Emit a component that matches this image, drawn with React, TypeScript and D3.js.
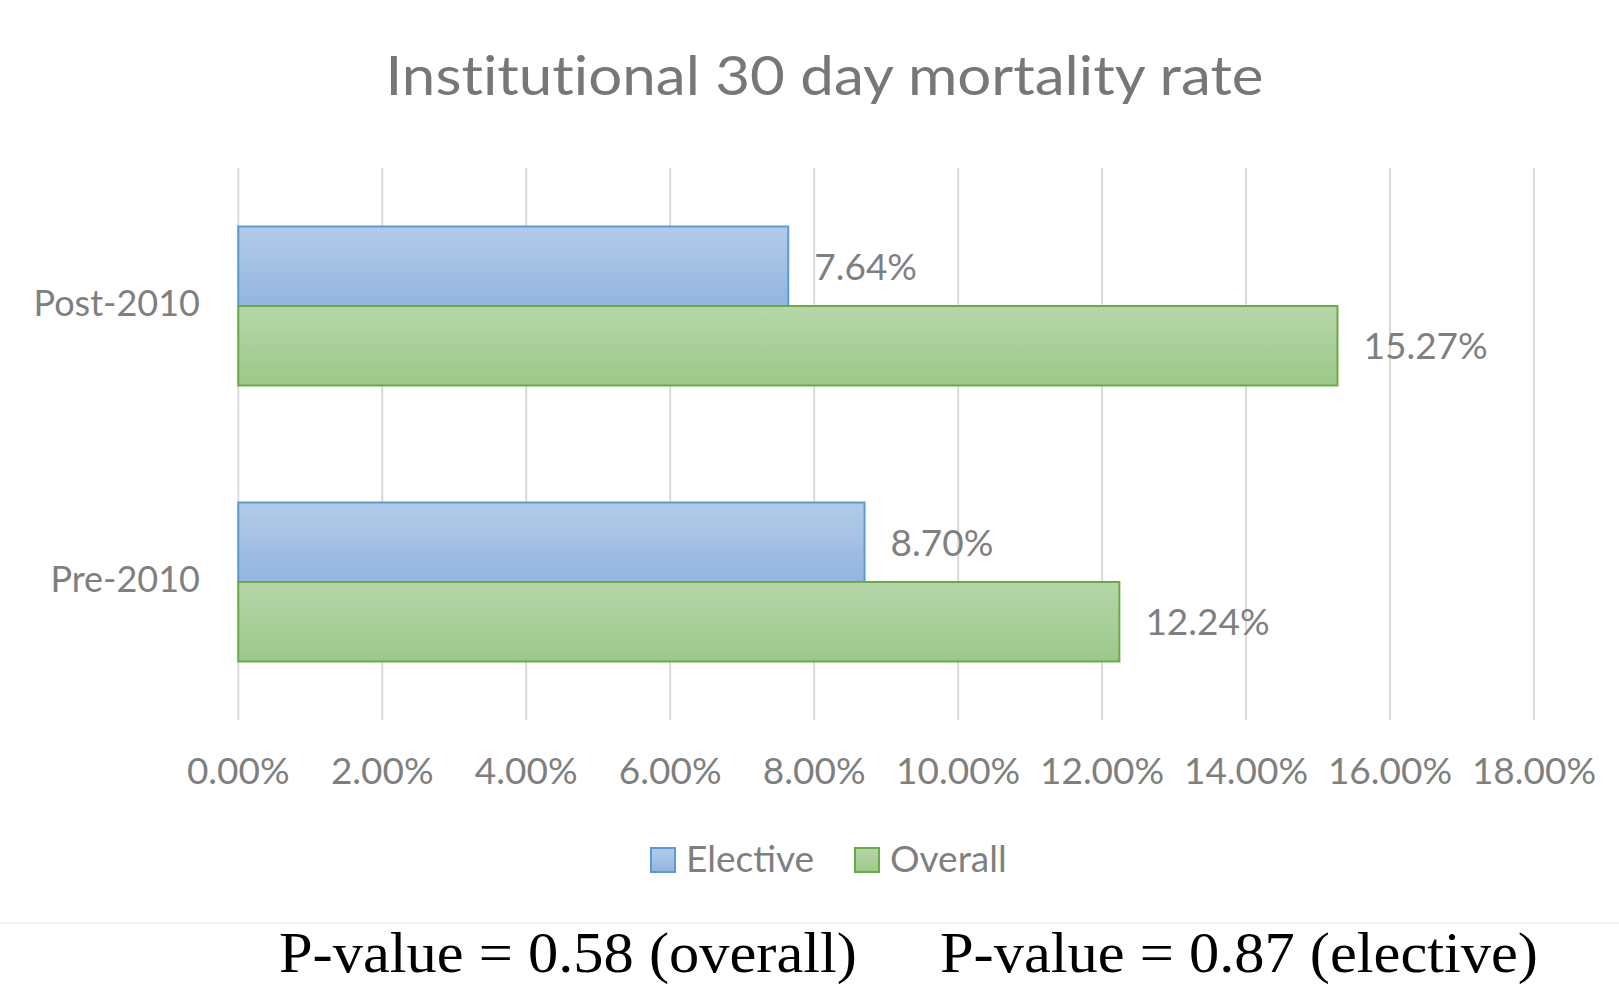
import React from "react";
import * as d3 from "d3";

const categories: string[] = ["Post-2010", "Pre-2010"];
const seriesNames: string[] = ["Elective", "Overall"];
const electiveValues: number[] = [7.64, 8.7];
const overallValues: number[] = [15.27, 12.24];
const xTickValues: number[] = [0, 2, 4, 6, 8, 10, 12, 14, 16, 18];
const xTickLabels: string[] = ["0.00%", "2.00%", "4.00%", "6.00%", "8.00%", "10.00%", "12.00%", "14.00%", "16.00%", "18.00%"];
const titleText = "Institutional 30 day mortality rate";
const pValueTexts: string[] = ["P-value = 0.58 (overall)", "P-value = 0.87 (elective)"];

const W = 1619;
const H = 986;
const SANS = "Lato, 'Open Sans', sans-serif";
const GRAY = "#7f7f7f";
const noLig = { fontVariantLigatures: "none" } as React.CSSProperties;

const colors = {
  Elective: { top: "#b3cbe9", bottom: "#93b5e0", stroke: "#5b9bd5" },
  Overall: { top: "#b6d6a8", bottom: "#9dc88a", stroke: "#6aab45" },
} as Record<string, { top: string; bottom: string; stroke: string }>;

export default function App() {
  const x = d3.scaleLinear().domain([0, 18]).range([238.3, 1534]);
  const y = d3
    .scaleBand<string>()
    .domain(categories)
    .range([168, 720])
    .paddingInner(0.424)
    .paddingOuter(0.212);
  const ySub = d3.scaleBand<string>().domain(seriesNames).range([0, y.bandwidth()]);

  const rows = categories.map((c, i) => ({
    category: c,
    values: [
      { series: "Elective", value: electiveValues[i] },
      { series: "Overall", value: overallValues[i] },
    ],
  }));

  return (
    <svg
      width={W}
      height={H}
      style={{ position: "absolute", left: 0, top: 0, background: "#fff" }}
      xmlns="http://www.w3.org/2000/svg"
    >
      <defs>
        {seriesNames.map((s) => (
          <linearGradient key={s} id={`grad-${s}`} x1="0" y1="0" x2="0" y2="1">
            <stop offset="0%" stopColor={colors[s].top} />
            <stop offset="100%" stopColor={colors[s].bottom} />
          </linearGradient>
        ))}
      </defs>
      <rect x={0} y={0} width={W} height={H} fill="#fff" />

      {/* title */}
      <text
        x={824.5}
        y={95}
        textAnchor="middle"
        fontFamily={SANS}
        fontSize={55}
        fill="#777777"
        textLength={878}
        lengthAdjust="spacingAndGlyphs"
        style={noLig}
      >
        {titleText}
      </text>

      {/* gridlines */}
      {xTickValues.map((t) => (
        <line
          key={`g${t}`}
          x1={x(t)}
          x2={x(t)}
          y1={168}
          y2={720}
          stroke="#d9d9d9"
          strokeWidth={2}
        />
      ))}

      {/* tick labels */}
      {xTickValues.map((t, i) => (
        <text
          key={`t${t}`}
          x={x(t)}
          y={784}
          textAnchor="middle"
          fontFamily={SANS}
          fontSize={37}
          fill={GRAY}
        >
          {xTickLabels[i]}
        </text>
      ))}

      {/* bars */}
      {rows.map((r) => (
        <g key={r.category} transform={`translate(0,${y(r.category)})`}>
          {r.values.map((v) => (
            <rect
              key={v.series}
              x={x(0)}
              y={ySub(v.series)}
              width={x(v.value) - x(0)}
              height={ySub.bandwidth()}
              fill={`url(#grad-${v.series})`}
              stroke={colors[v.series].stroke}
              strokeWidth={2}
            />
          ))}
          {r.values.map((v) => (
            <text
              key={`l${v.series}`}
              x={x(v.value) + 26}
              y={(ySub(v.series) as number) + ySub.bandwidth() / 2 + 13.5}
              fontFamily={SANS}
              fontSize={37}
              fill={GRAY}
            >
              {v.value.toFixed(2) + "%"}
            </text>
          ))}
          <text
            x={200}
            y={y.bandwidth() / 2 + 10}
            textAnchor="end"
            fontFamily={SANS}
            fontSize={36}
            fill={GRAY}
          >
            {r.category}
          </text>
        </g>
      ))}

      {/* legend */}
      {seriesNames.map((s, i) => {
        const lx = [651, 855][i];
        return (
          <g key={`leg${s}`}>
            <rect
              x={lx}
              y={848}
              width={24}
              height={24}
              fill={`url(#grad-${s})`}
              stroke={colors[s].stroke}
              strokeWidth={2}
            />
            <text x={lx + 35} y={871.5} fontFamily={SANS} fontSize={37} fill={GRAY}>
              {s}
            </text>
          </g>
        );
      })}

      {/* separator */}
      <line x1={0} x2={W} y1={923} y2={923} stroke="#f2f2f2" strokeWidth={2} />

      {/* p-values */}
      <text
        x={279}
        y={972}
        fontFamily="'Liberation Serif', 'Times New Roman', serif"
        fontSize={58}
        fill="#000"
        textLength={578}
        lengthAdjust="spacingAndGlyphs"
      >
        {pValueTexts[0]}
      </text>
      <text
        x={940}
        y={972}
        fontFamily="'Liberation Serif', 'Times New Roman', serif"
        fontSize={58}
        fill="#000"
        textLength={598}
        lengthAdjust="spacingAndGlyphs"
      >
        {pValueTexts[1]}
      </text>
    </svg>
  );
}
